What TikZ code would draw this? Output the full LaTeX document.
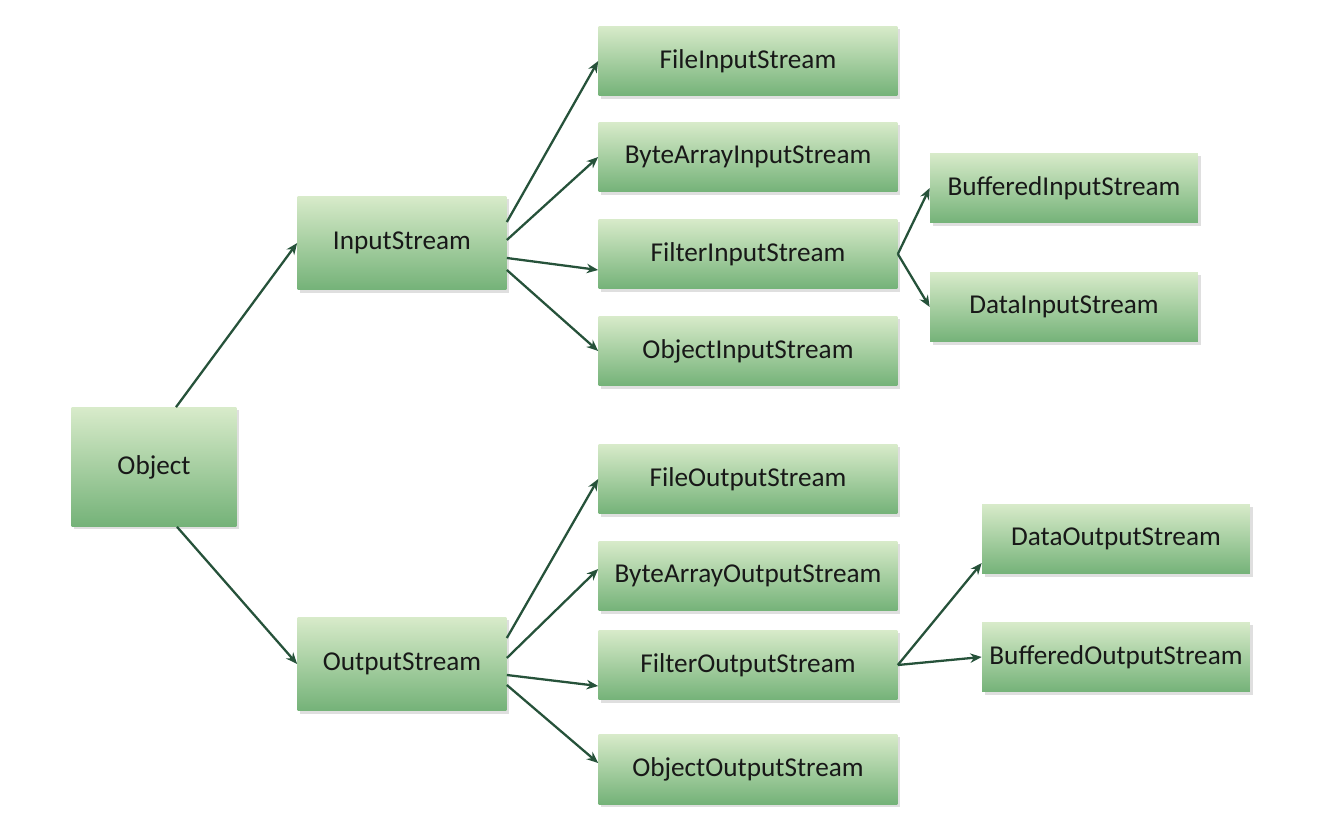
\documentclass[tikz,border=0pt]{standalone}
\usepackage{fontspec}
\setmainfont{Carlito}
\usetikzlibrary{positioning,arrows.meta,shadows}

\definecolor{boxtop}{RGB}{216,235,202}
\definecolor{boxbot}{RGB}{116,178,120}
\definecolor{flowcol}{RGB}{38,82,58}
\definecolor{txtcol}{RGB}{24,24,24}

\begin{document}
\begin{tikzpicture}[
  x=0.02cm, y=-0.02cm,
  every node/.style={font=\fontsize{15.5}{18.5}\selectfont, text=txtcol},
  box/.style={rectangle, top color=boxtop, bottom color=boxbot, align=center,
              inner sep=2pt, drop shadow={opacity=0.25, shadow xshift=1.5pt, shadow yshift=-1.5pt}},
  root/.style={box, minimum width=3.3cm, minimum height=2.38cm},
  base/.style={box, minimum width=4.18cm, minimum height=1.88cm},
  leaf/.style={box, minimum width=5.98cm, minimum height=1.4cm},
  sub/.style={box, minimum width=5.36cm, minimum height=1.4cm},
  flow/.style={-{Stealth[length=2.3mm, width=1.9mm]}, flowcol, line width=1.3pt}
]
\useasboundingbox (0,0) rectangle (1328,824);

% root and the two base classes
\node[root] (obj) at (154,467) {Object};
\node[base] (ins) at (402,243) {InputStream};
\node[base] (outs) at (402,664) {OutputStream};

% input side
\node[leaf] (fis) at (748,61) {FileInputStream};
\node[leaf] (bais) at (748,157) {ByteArrayInputStream};
\node[leaf] (filis) at (748,254) {FilterInputStream};
\node[leaf] (ois) at (748,351) {ObjectInputStream};
\node[sub] (bis) at (1064,188) {BufferedInputStream};
\node[sub] (dis) at (1064,307) {DataInputStream};

% output side
\node[leaf] (fos) at (748,479) {FileOutputStream};
\node[leaf] (baos) at (748,576) {ByteArrayOutputStream};
\node[leaf] (filos) at (748,665) {FilterOutputStream};
\node[leaf] (oos) at (748,769) {ObjectOutputStream};
\node[sub] (dos) at (1116,539) {DataOutputStream};
\node[sub] (bos) at (1116,657) {BufferedOutputStream};

\draw[flow] ([xshift=0.44cm]obj.north) -- (ins.west);
\draw[flow] ([xshift=0.46cm]obj.south) -- (outs.west);

\draw[flow] ([yshift=0.42cm]ins.east) -- (fis.west);
\draw[flow] ([yshift=0.06cm]ins.east) -- (bais.west);
\draw[flow] ([yshift=-0.30cm]ins.east) -- ([yshift=-0.32cm]filis.west);
\draw[flow] ([yshift=-0.54cm]ins.east) -- (ois.west);
\draw[flow] (filis.east) -- (bis.west);
\draw[flow] (filis.east) -- (dis.west);

\draw[flow] ([yshift=0.52cm]outs.east) -- (fos.west);
\draw[flow] ([yshift=0.12cm]outs.east) -- ([yshift=0.14cm]baos.west);
\draw[flow] ([yshift=-0.22cm]outs.east) -- ([yshift=-0.42cm]filos.west);
\draw[flow] ([yshift=-0.42cm]outs.east) -- ([yshift=0.12cm]oos.west);
\draw[flow] (filos.east) -- ([yshift=-0.48cm]dos.west);
\draw[flow] (filos.east) -- (bos.west);
\end{tikzpicture}
\end{document}
